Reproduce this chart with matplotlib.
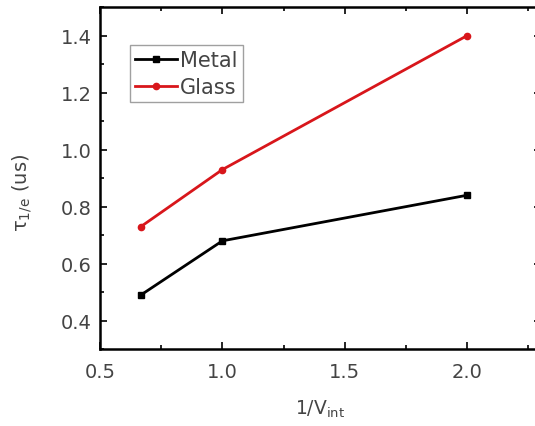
import matplotlib
matplotlib.use("Agg")
import matplotlib.pyplot as plt
from matplotlib.ticker import MultipleLocator

plt.rcParams['font.family'] = ['DejaVu Sans']
plt.rcParams['mathtext.fontset'] = 'dejavusans'

x_vals = [0.667, 1.0, 2.0]
metal = [0.49, 0.68, 0.84]
glass = [0.73, 0.93, 1.40]
series_names = ["Metal", "Glass"]

fig = plt.figure(figsize=(5.35, 4.27), dpi=100)
ax = fig.add_axes([0.187, 0.180, 0.8234, 0.801])

ax.plot(x_vals, metal, color='black', lw=2, marker='s', ms=4.5, label=series_names[0])
ax.plot(x_vals, glass, color='#d8161b', lw=2, marker='o', ms=4.5, label=series_names[1])

ax.set_xlim(0.5, 2.3)
ax.set_ylim(0.3, 1.5)
ax.xaxis.set_major_locator(MultipleLocator(0.5))
ax.xaxis.set_minor_locator(MultipleLocator(0.25))
ax.yaxis.set_major_locator(MultipleLocator(0.2))
ax.yaxis.set_minor_locator(MultipleLocator(0.1))
ax.xaxis.set_major_formatter(plt.FormatStrFormatter('%.1f'))
ax.yaxis.set_major_formatter(plt.FormatStrFormatter('%.1f'))

ax.tick_params(which='both', direction='in', top=True, right=True, labelsize=14,
               colors='black', labelcolor='#444444', width=1.2)
ax.tick_params(which='major', length=5)
ax.tick_params(axis='x', which='major', pad=9)
ax.tick_params(axis='y', which='major', pad=6)
ax.tick_params(which='minor', length=3)
for s in ax.spines.values():
    s.set_linewidth(1.8)

ax.set_xlabel(r'1/V$_{\mathregular{int}}$', fontsize=13.5, color='#444444', labelpad=12)
ax.set_ylabel(r'$\mathregular{\tau}_{\mathregular{1/e}}$ (us)', fontsize=14, color='#444444')
ax.yaxis.set_label_coords(-0.150, 0.459)

leg = ax.legend(loc='upper left', bbox_to_anchor=(0.068, 0.89), fontsize=15,
                frameon=True, fancybox=False, handlelength=2.0, handletextpad=0.15,
                borderpad=0.25, labelspacing=0.33, borderaxespad=0)
leg.get_frame().set_edgecolor('#888888')
leg.get_frame().set_linewidth(1.0)
for t in leg.get_texts():
    t.set_color('#444444')

fig.savefig("out.png", dpi=100)
